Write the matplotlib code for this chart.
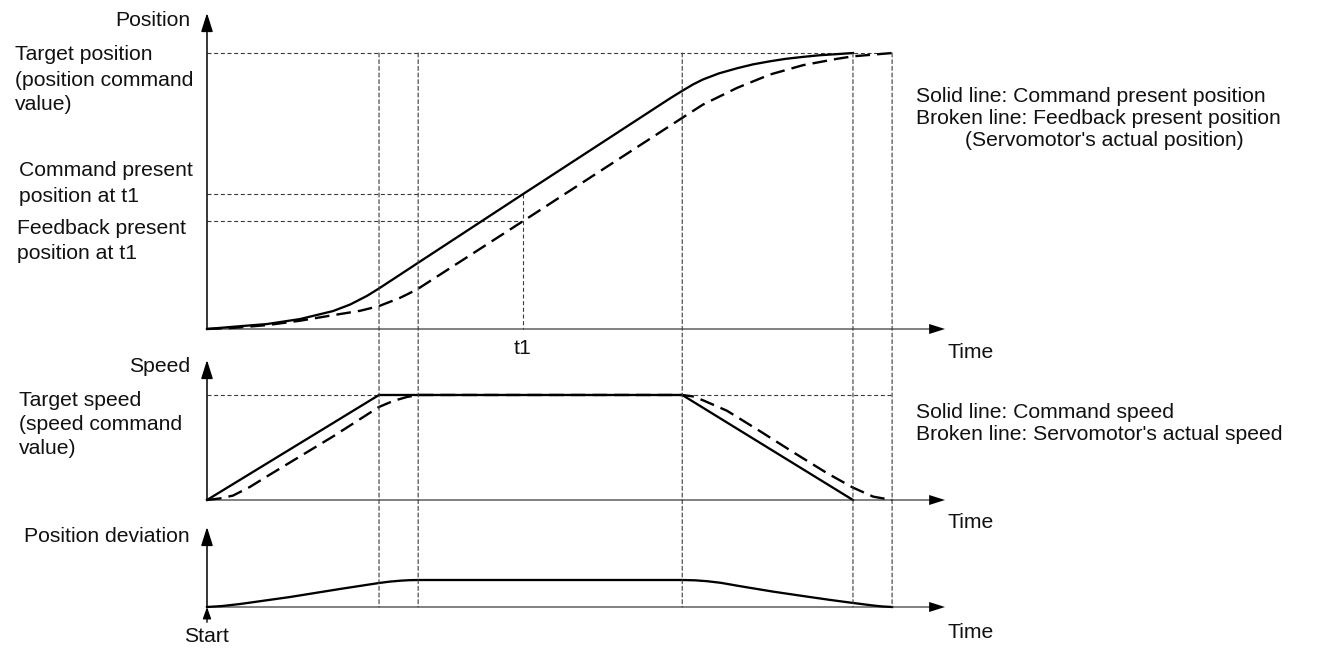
import matplotlib
matplotlib.use("Agg")
import matplotlib.pyplot as plt
from matplotlib.patches import ConnectionPatch

plt.rcParams['font.family'] = ['Liberation Sans', 'DejaVu Sans']

# ---------------- data (time in arbitrary units) ----------------
t_marks = [4.0, 4.91, 11.05, 15.02, 15.93]   # phase boundaries (dashed verticals)
t1 = 7.35
t_end = 17.16                                # end of time axes

# Position panel (target = 100)
pos_cmd_t = [0, 0.605, 1.395, 2.163, 2.93, 3.326, 3.72, 4.0, 4.49, 4.91, 7.35,
             10.77, 11.05, 11.3, 11.53, 11.9, 12.33, 12.7, 13.09, 13.46, 13.86,
             14.25, 14.65, 15.02]
pos_cmd_v = [0, 0.8, 1.8, 3.6, 6.5, 8.85, 12.0, 14.7, 19.7, 24.0, 48.9,
             83.6, 86.3, 88.6, 90.4, 92.6, 94.5, 95.9, 97.0, 97.9, 98.6,
             99.2, 99.6, 100]
pos_fb_t = [0, 0.605, 1.395, 2.163, 2.93, 3.56, 4.0, 4.49, 4.7, 4.91, 7.35,
            11.05, 11.53, 12.33, 13.09, 13.86, 14.65, 15.02, 15.93]
pos_fb_v = [0, 0.4, 1.4, 3.0, 5.0, 6.6, 8.3, 11.3, 12.9, 14.6, 39.1,
            76.5, 81.3, 87.4, 92.2, 95.6, 97.9, 98.8, 100]
target_pos = 100
cmd_at_t1 = 48.9
fb_at_t1 = 39.1

# Speed panel (target speed = 100)
spd_cmd_t = [0, 4.0, 11.05, 15.02]
spd_cmd_v = [0, 100, 100, 0]
spd_fb_t = [0, 0.3, 0.605, 1.0, 1.395, 2.93, 4.0, 4.33, 4.65, 4.91, 11.05,
            11.3, 11.53, 12.09, 12.86, 13.63, 14.42, 15.02, 15.49, 15.93]
spd_fb_v = [0, 1.5, 4.2, 12.5, 22.5, 60.5, 88.6, 94.3, 98.1, 100, 100,
            98.6, 95.0, 85.0, 65.5, 45.5, 25.5, 11.8, 3.2, 0]
target_spd = 100

# Position deviation panel (plateau = 100)
dev_t = [0, 0.35, 0.77, 1.93, 3.09, 4.0, 4.25, 4.5, 4.7, 4.91, 11.05, 11.35,
         11.63, 11.95, 12.4, 13.16, 13.95, 14.5, 15.02, 15.49, 15.7, 15.93]
dev_v = [0, 3.5, 11.1, 37.0, 66.7, 88.9, 94.0, 97.5, 99.3, 100, 100, 98.8,
         95.5, 89.5, 77.0, 57.0, 38.5, 26.0, 15.0, 5.5, 2.0, 0]

# ---------------- layout ----------------
W, H = 1333, 649
fig = plt.figure(figsize=(W / 100, H / 100), dpi=100)


def px_axes(x0, x1, ytop, ybot):
    return fig.add_axes([x0 / W, 1 - ybot / H, (x1 - x0) / W, (ybot - ytop) / H])


ax_pos = px_axes(207, 945, 13, 329)
ax_spd = px_axes(207, 945, 360, 500)
ax_dev = px_axes(207, 945, 527, 607)

ax_pos.set_ylim(0, 114.5)
ax_spd.set_ylim(0, 133.3)
ax_dev.set_ylim(0, 296.3)

GUIDE = dict(color='#3a3a3a', lw=0.8, linestyle=(0, (3.6, 2.4)))
AXIS_GRAY = '#777777'

for ax in (ax_pos, ax_spd, ax_dev):
    ax.set_xlim(0, t_end)
    ax.axis('off')
    ax.plot([0, 0.985], [0, 0], transform=ax.transAxes, color=AXIS_GRAY,
            lw=1.3, clip_on=False, solid_capstyle='butt')
    ax.annotate('', xy=(1, 0), xytext=(0.975, 0), xycoords='axes fraction',
                arrowprops=dict(arrowstyle='-|>,head_length=0.95,head_width=0.3',
                                mutation_scale=12, color='black', lw=0.01,
                                shrinkA=0, shrinkB=0))
    ax.annotate('', xy=(0, 1), xytext=(0, 0), xycoords='axes fraction',
                arrowprops=dict(arrowstyle='-|>,head_length=0.95,head_width=0.3',
                                mutation_scale=12, color='black', lw=1.1,
                                shrinkA=0, shrinkB=0))

# guide lines - position panel
ax_pos.plot([0, t_marks[-1]], [target_pos, target_pos], clip_on=False, **GUIDE)
ax_pos.plot([0, t1], [cmd_at_t1, cmd_at_t1], clip_on=False, **GUIDE)
ax_pos.plot([0, t1], [fb_at_t1, fb_at_t1], clip_on=False, **GUIDE)
ax_pos.plot([t1, t1], [cmd_at_t1, 0], clip_on=False, **GUIDE)
# guide line - speed panel
ax_spd.plot([0, t_marks[-1]], [target_spd, target_spd], clip_on=False, **GUIDE)

# vertical guides across all panels
for tm in t_marks:
    con = ConnectionPatch(xyA=(tm, target_pos), coordsA=ax_pos.transData,
                          xyB=(tm, 0), coordsB=ax_dev.transData,
                          color='#3a3a3a', lw=0.8, linestyle=(0, (3.6, 2.4)))
    fig.add_artist(con)

SOLID = dict(color='black', lw=1.65, solid_joinstyle='round', clip_on=False)
BROKEN = dict(color='black', lw=1.7, linestyle=(0, (6.2, 3.0)), clip_on=False)

ax_pos.plot(pos_cmd_t, pos_cmd_v, **SOLID)
ax_pos.plot(pos_fb_t, pos_fb_v, **BROKEN)
ax_spd.plot(spd_cmd_t, spd_cmd_v, **SOLID)
ax_spd.plot(spd_fb_t, spd_fb_v, **BROKEN)
ax_dev.plot(dev_t, dev_v, **SOLID)

# Start arrow
ax_dev.annotate('', xy=(0, 0), xycoords='data', xytext=(0, -11), textcoords='offset points',
                arrowprops=dict(arrowstyle='-|>,head_length=0.7,head_width=0.25',
                                mutation_scale=10, color='black', lw=1.0,
                                shrinkA=0, shrinkB=0))

# ---------------- texts ----------------
FS = 15.2


def ptext(x, y, s, ha='left', va='center'):
    fig.text(x / W, 1 - y / H, s, ha=ha, va=va, fontsize=FS, color='#111111')


ptext(190, 20, 'Position', ha='right')
ptext(15, 55, 'Target position')
ptext(15, 80, '(position command')
ptext(15, 105, 'value)')
ptext(19, 171, 'Command present')
ptext(19, 196, 'position at t1')
ptext(17, 228, 'Feedback present')
ptext(17, 253, 'position at t1')
ptext(523, 348, 't1', ha='center')
ptext(948, 353, 'Time')

ptext(916, 96, 'Solid line: Command present position')
ptext(916, 118, 'Broken line: Feedback present position')
ptext(965, 141, "(Servomotor's actual position)")

ptext(190, 367, 'Speed', ha='right')
ptext(19, 400, 'Target speed')
ptext(19, 424, '(speed command')
ptext(19, 448, 'value)')
ptext(948, 522, 'Time')
ptext(916, 412, 'Solid line: Command speed')
ptext(916, 434, "Broken line: Servomotor's actual speed")

ptext(190, 536, 'Position deviation', ha='right')
ptext(207, 636, 'Start', ha='center')
ptext(948, 633, 'Time')

fig.savefig('out.png', dpi=100, facecolor='white')
